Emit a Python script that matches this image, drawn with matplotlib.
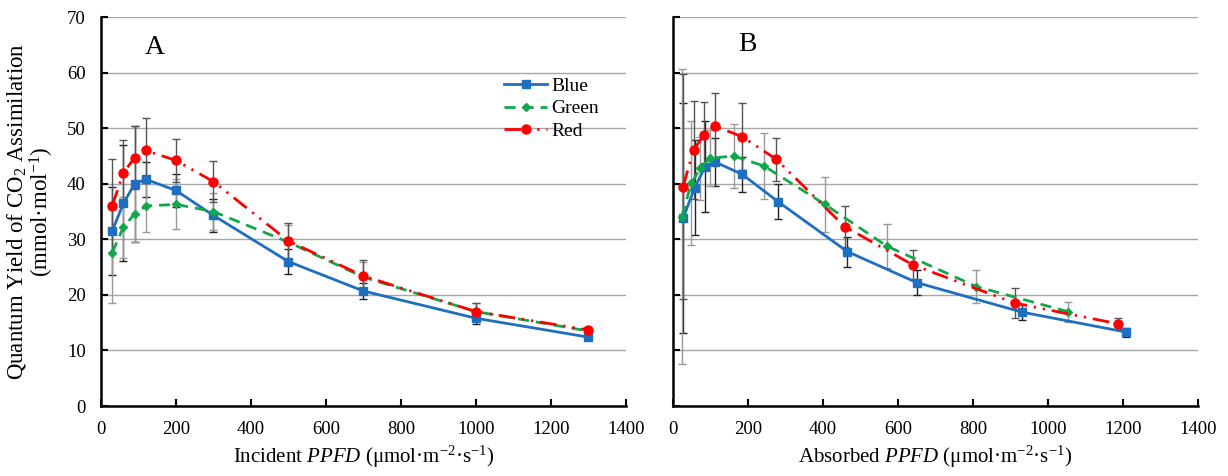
import numpy as np
import matplotlib.pyplot as plt

plt.rcParams['font.family'] = ['Liberation Serif', 'DejaVu Serif']
plt.rcParams['mathtext.fontset'] = 'custom'
plt.rcParams['mathtext.rm'] = 'Liberation Serif'
plt.rcParams['mathtext.it'] = 'Liberation Serif:italic'

# panel A: incident PPFD
inc_x = [30, 60, 90, 120, 200, 300, 500, 700, 1000, 1300]
inc_blue = [31.5, 36.5, 40.0, 40.8, 38.8, 34.3, 26.0, 20.7, 15.8, 12.4]
inc_blue_err = [8.0, 10.4, 10.4, 3.2, 3.0, 3.0, 2.2, 1.5, 1.0, 0.6]
inc_green = [27.6, 32.2, 34.6, 36.0, 36.3, 35.0, 29.5, 23.2, 17.0, 13.5]
inc_green_err = [9.0, 5.5, 5.0, 4.7, 4.5, 3.3, 3.0, 2.8, 1.5, 0.6]
inc_red = [36.0, 42.0, 44.7, 46.0, 44.2, 40.4, 29.7, 23.4, 17.0, 13.7]
inc_red_err = [8.4, 5.9, 5.7, 5.8, 3.8, 3.7, 3.2, 2.8, 1.5, 0.5]

# panel B: absorbed PPFD
abs_blue_x = [27, 58, 86, 113, 185, 280, 465, 651, 931, 1209]
abs_blue = [33.8, 39.3, 43.1, 43.9, 41.7, 36.8, 27.8, 22.2, 16.9, 13.3]
abs_blue_err = [20.7, 8.5, 8.2, 4.3, 3.1, 3.2, 2.7, 2.2, 1.5, 0.8]
abs_green_x = [24, 49, 73, 98, 162, 243, 405, 570, 809, 1053]
abs_green = [34.1, 40.1, 42.8, 44.6, 45.0, 43.2, 36.3, 28.8, 21.5, 17.0]
abs_green_err = [26.5, 11.2, 5.7, 5.0, 5.8, 5.9, 5.0, 4.0, 3.0, 1.8]
abs_red_x = [27, 55, 83, 111, 184, 276, 458, 640, 913, 1187]
abs_red = [39.5, 46.1, 48.8, 50.4, 48.5, 44.4, 32.3, 25.4, 18.5, 14.8]
abs_red_err = [20.2, 8.8, 6.0, 6.0, 6.1, 3.9, 3.7, 2.6, 2.7, 1.0]

c_blue = '#1F6FC1'
c_green = '#12A84A'
c_red = '#FF0000'
red_ls = (0, (6, 2.5, 0.8, 2.5, 0.8, 2.5))

fig = plt.figure(figsize=(12.28, 4.76), dpi=100)
axA = fig.add_axes([0.0822, 0.147, 0.4275, 0.817])
axB = fig.add_axes([0.548, 0.147, 0.4275, 0.817])


def panel(ax, series):
    for x, y, e, col, ls, mk, ms, ecol, lab in series:
        ax.errorbar(x, y, yerr=e, fmt='none', ecolor=ecol, elinewidth=1.0,
                    capsize=3, capthick=1.0, zorder=2)
    for x, y, e, col, ls, mk, ms, ecol, lab in series:
        ax.plot(x, y, color=col, linestyle=ls, marker=mk, markersize=ms,
                linewidth=2, label=lab, zorder=3)
    ax.set_xlim(0, 1400)
    ax.set_ylim(0, 70)
    ax.set_xticks(np.arange(0, 1401, 200))
    ax.set_yticks(np.arange(0, 71, 10))
    ax.yaxis.grid(True, color='#a6a6a6', linewidth=1.0)
    ax.set_axisbelow(True)
    for s in ['top', 'right']:
        ax.spines[s].set_visible(False)
    for s in ['left', 'bottom']:
        ax.spines[s].set_linewidth(1.8)
    ax.tick_params(direction='in', length=5, width=1.5, labelsize=13.5, pad=11)


panel(axA, [
    (inc_x, inc_blue, inc_blue_err, c_blue, '-', 's', 5.5, '#222222', 'Blue'),
    (inc_x, inc_green, inc_green_err, c_green, (0, (4, 2.5)), 'D', 4.5, '#999999', 'Green'),
    (inc_x, inc_red, inc_red_err, c_red, red_ls, 'o', 6.5, '#555555', 'Red'),
])
panel(axB, [
    (abs_blue_x, abs_blue, abs_blue_err, c_blue, '-', 's', 5.5, '#222222', 'Blue'),
    (abs_green_x, abs_green, abs_green_err, c_green, (0, (4, 2.5)), 'D', 4.5, '#999999', 'Green'),
    (abs_red_x, abs_red, abs_red_err, c_red, red_ls, 'o', 6.5, '#555555', 'Red'),
])
axB.tick_params(labelleft=False)

axA.text(144, 64.6, 'A', fontsize=20, ha='center', va='center')
axB.text(200, 65, 'B', fontsize=20, ha='center', va='center')

axA.legend(loc='upper left', bbox_to_anchor=(0.735, 0.89), frameon=False,
           fontsize=14, handlelength=2.2, handletextpad=0.2, labelspacing=0.25)

axA.set_xlabel(r'Incident $\it{PPFD}$ (μmol·m$^{-2}$·s$^{-1}$)', fontsize=15, labelpad=4)
axB.set_xlabel(r'Absorbed $\it{PPFD}$ (μmol·m$^{-2}$·s$^{-1}$)', fontsize=15, labelpad=4)
axA.set_ylabel('Quantum Yield of CO$_2$ Assimilation\n(mmol·mol$^{-1}$)',
               fontsize=16.5, linespacing=1.0, labelpad=8)

fig.savefig('out.png', dpi=100)
